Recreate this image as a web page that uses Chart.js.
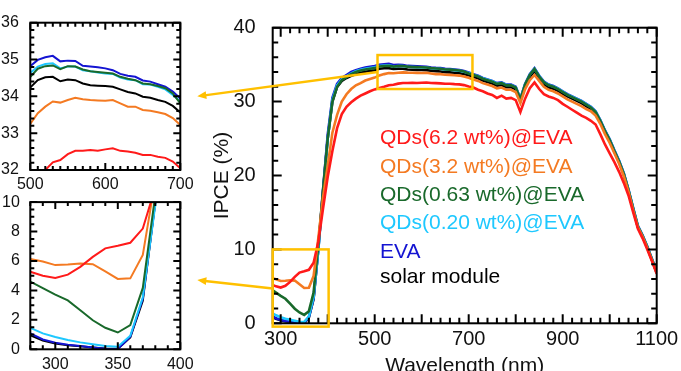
<!DOCTYPE html>
<html>
<head>
<meta charset="utf-8">
<script src="https://cdn.jsdelivr.net/npm/chart.js@4.4.1/dist/chart.umd.min.js"></script>
<style>
  html, body { margin: 0; padding: 0; background: #fff; }
  #wrap { position: relative; width: 681px; height: 371px; overflow: hidden; }
  canvas { position: absolute; }
</style>
</head>
<body>
<div id="wrap">
  <canvas id="main" width="681" height="371" style="left:0;top:0"></canvas>
  <canvas id="insetTop" width="200" height="195" style="left:0;top:0"></canvas>
  <canvas id="insetLow" width="200" height="181" style="left:0;top:190px"></canvas>
</div>
<script>
// ---------- data ----------
const wavelengths = [280, 290, 300, 310, 320, 330, 340, 350, 360, 370,
  380, 390, 400, 410, 420, 430, 440, 450, 460, 470, 480, 490, 500,
  510, 520, 530, 540, 550, 560, 570, 580, 590, 600, 610, 620, 630, 640, 650, 660, 670, 680, 690, 700,
  710, 720, 730, 740, 750, 760, 770, 780, 790, 800, 810, 820, 830, 840, 850, 860, 870, 880, 890, 900,
  910, 920, 930, 940, 950, 960, 970, 980, 990, 1000, 1010, 1020, 1030, 1040, 1050, 1060, 1070, 1080, 1090, 1100];

const qd62 = [5.27, 5.0, 4.84, 5.07, 5.6, 6.28, 6.86, 7.04, 7.24, 8.2,
  11.0, 15.5, 19.8, 23.3, 26.4, 28.3, 29.3, 29.9, 30.4, 30.8, 31.1, 31.4, 31.65,
  31.85, 32.0, 32.21, 32.27, 32.43, 32.52, 32.52, 32.54, 32.52, 32.56, 32.59, 32.52, 32.5, 32.47, 32.41, 32.41, 32.36, 32.33, 32.23, 32.05,
  31.9, 31.6, 31.4, 31.1, 30.9, 30.5, 30.8, 30.4, 30.5, 30.2, 28.6, 30.4, 31.8, 32.6, 31.7, 31.0, 30.7, 30.5, 30.2, 29.7,
  29.3, 28.9, 28.5, 28.1, 27.8, 27.4, 26.9, 25.6, 24.2, 23.0, 21.8, 20.5, 19.0, 17.3, 15.0, 12.8, 11.5, 10.0, 8.4, 6.7];

const qd32 = [6.14, 5.96, 5.72, 5.76, 5.83, 5.78, 5.29, 4.78, 4.82, 6.41,
  11.5, 17.0, 21.3, 25.8, 28.2, 30.0, 31.0, 31.7, 32.2, 32.5, 32.85, 33.05, 33.25,
  33.54, 33.72, 33.86, 33.83, 33.9, 33.96, 33.92, 33.9, 33.89, 33.88, 33.9, 33.81, 33.72, 33.72, 33.63, 33.61, 33.57, 33.52, 33.41, 33.22,
  33.0, 32.8, 32.5, 32.3, 32.1, 31.8, 31.9, 31.6, 31.6, 31.3, 29.8, 31.7, 32.9, 33.6, 32.8, 32.0, 31.6, 31.4, 31.1, 30.7,
  30.3, 30.0, 29.7, 29.4, 29.0, 28.7, 28.1, 27.0, 25.6, 24.4, 23.0, 21.6, 19.9, 17.8, 15.3, 13.0, 11.7, 10.2, 8.5, 6.85];

const qd063 = [4.6, 4.15, 3.72, 3.32, 2.65, 1.97, 1.46, 1.14, 1.64, 4.17,
  10.5, 18.0, 25.0, 30.0, 32.0, 32.9, 33.3, 33.7, 34.0, 34.2, 34.35, 34.45, 34.53,
  34.75, 34.82, 34.84, 34.74, 34.82, 34.81, 34.73, 34.68, 34.66, 34.64, 34.62, 34.53, 34.48, 34.44, 34.35, 34.33, 34.28, 34.22, 34.08, 33.81,
  33.6, 33.4, 33.1, 32.9, 32.7, 32.4, 32.5, 32.2, 32.2, 31.9, 30.3, 32.3, 33.6, 34.4, 33.4, 32.6, 32.2, 32.0, 31.7, 31.3,
  30.9, 30.6, 30.3, 30.0, 29.6, 29.2, 28.6, 27.4, 26.0, 24.8, 23.3, 21.9, 20.2, 18.0, 15.5, 13.1, 11.8, 10.3, 8.6, 6.9];

const qd020 = [1.46, 1.08, 0.83, 0.63, 0.47, 0.34, 0.22, 0.18, 0.92, 3.54,
  9.8, 17.5, 25.0, 30.2, 32.2, 33.0, 33.4, 33.8, 34.1, 34.3, 34.45, 34.55, 34.64,
  34.81, 34.88, 34.9, 34.76, 34.81, 34.81, 34.71, 34.68, 34.65, 34.62, 34.61, 34.51, 34.46, 34.44, 34.33, 34.32, 34.26, 34.19, 34.04, 33.86,
  33.65, 33.45, 33.15, 32.95, 32.75, 32.45, 32.55, 32.25, 32.25, 31.95, 30.35, 32.35, 33.65, 34.45, 33.45, 32.65, 32.25, 32.05, 31.75, 31.35,
  30.95, 30.65, 30.35, 30.05, 29.65, 29.25, 28.65, 27.45, 26.05, 24.85, 23.35, 21.95, 20.25, 18.05, 15.55, 13.15, 11.85, 10.35, 8.65, 6.95];

const eva = [1.08, 0.67, 0.45, 0.31, 0.22, 0.13, 0.04, 0.02, 0.85, 3.43,
  10.0, 18.0, 25.5, 30.5, 32.4, 33.2, 33.6, 34.0, 34.25, 34.45, 34.6, 34.72, 34.82,
  34.99, 35.06, 35.1, 34.95, 34.97, 34.96, 34.83, 34.81, 34.79, 34.76, 34.71, 34.61, 34.56, 34.53, 34.43, 34.4, 34.33, 34.26, 34.13, 33.94,
  33.72, 33.5, 33.2, 33.0, 32.8, 32.5, 32.6, 32.3, 32.3, 32.0, 30.4, 32.4, 33.7, 34.5, 33.5, 32.7, 32.3, 32.1, 31.8, 31.4,
  31.0, 30.7, 30.4, 30.1, 29.7, 29.3, 28.7, 27.5, 26.1, 24.9, 23.4, 22.0, 20.3, 18.1, 15.6, 13.2, 11.9, 10.4, 8.7, 7.0];

const solarModule = [0.95, 0.6, 0.4, 0.28, 0.2, 0.12, 0.05, 0.03, 0.8, 3.3,
  10.0, 17.8, 25.0, 30.0, 32.0, 32.8, 33.2, 33.5, 33.7, 33.9, 34.05, 34.15, 34.24,
  34.44, 34.52, 34.53, 34.41, 34.46, 34.44, 34.35, 34.3, 34.29, 34.28, 34.26, 34.19, 34.12, 34.08, 33.99, 33.96, 33.9, 33.85, 33.74, 33.56,
  33.35, 33.15, 32.85, 32.65, 32.45, 32.15, 32.25, 31.95, 31.95, 31.65, 30.1, 32.05, 33.35, 34.15, 33.15, 32.35, 31.95, 31.75, 31.45, 31.05,
  30.7, 30.4, 30.1, 29.8, 29.4, 29.0, 28.45, 27.3, 25.9, 24.7, 23.2, 21.8, 20.1, 17.9, 15.4, 13.0, 11.75, 10.25, 8.55, 6.85];

const seriesNames = ['QDs(6.2 wt%)@EVA', 'QDs(3.2 wt%)@EVA', 'QDs(0.63 wt%)@EVA',
  'QDs(0.20 wt%)@EVA', 'EVA', 'solar module'];
const seriesValues = [qd62, qd32, qd063, qd020, eva, solarModule];

const mainXTicks = [300, 500, 700, 900, 1100];
const topXTicks = [500, 600, 700];
const lowXTicks = [300, 350, 400];

// zoomed regions marked on the main plot (wavelength, IPCE)
const topZoomBox = { x: [506, 708], y: [31.7, 36.3] };
const lowZoomBox = { x: [283, 402], y: [-0.45, 10] };
const arrowLevels = [34, 4.7];

// ---------- styles ----------
const colors = ['#ff1a1a', '#f47a22', '#19692b', '#1ec8ff', '#1414d2', '#000000'];
const FONT = "'Liberation Sans', Arial, sans-serif";
const YELLOW = '#ffc000';
const legendBaselines = [144, 172.5, 201, 229, 258, 282.5];

function buildDatasets(width) {
  return seriesValues.map((vals, i) => ({
    label: seriesNames[i],
    data: wavelengths.map((w, k) => ({ x: w, y: vals[k] })),
    borderColor: colors[i],
    borderWidth: width,
    pointRadius: 0,
    tension: 0,
    fill: false
  }));
}

// frame with inward ticks on all four sides
function frameTicks(o) {
  return {
    id: 'frameTicks',
    afterDatasetsDraw(chart) {
      const { ctx, chartArea: a, scales: { x, y } } = chart;
      const isMajor = (v, m) => Math.abs(v / m - Math.round(v / m)) < 1e-6;
      ctx.save();
      ctx.strokeStyle = '#000';
      ctx.lineWidth = o.lw;
      ctx.beginPath();
      for (let n = Math.ceil(x.min / o.xMinor - 1e-9); n * o.xMinor <= x.max + 1e-9; n++) {
        const v = n * o.xMinor, px = x.getPixelForValue(v);
        const len = isMajor(v, o.xMajor) ? o.major : o.minor;
        ctx.moveTo(px, a.bottom); ctx.lineTo(px, a.bottom - len);
        ctx.moveTo(px, a.top); ctx.lineTo(px, a.top + len);
      }
      for (let n = Math.ceil(y.min / o.yMinor - 1e-9); n * o.yMinor <= y.max + 1e-9; n++) {
        const v = n * o.yMinor, py = y.getPixelForValue(v);
        const len = isMajor(v, o.yMajor) ? o.major : o.minor;
        ctx.moveTo(a.left, py); ctx.lineTo(a.left + len, py);
        ctx.moveTo(a.right, py); ctx.lineTo(a.right - len, py);
      }
      ctx.stroke();
      ctx.strokeRect(a.left, a.top, a.right - a.left, a.bottom - a.top);
      ctx.restore();
    }
  };
}

function baseOptions(cfg) {
  return {
    responsive: false,
    animation: false,
    devicePixelRatio: 1,
    layout: { padding: cfg.padding },
    plugins: { legend: { display: false }, tooltip: { enabled: false } },
    scales: {
      x: {
        type: 'linear', min: cfg.xMin, max: cfg.xMax,
        grid: { display: false }, border: { display: false },
        afterBuildTicks: s => { s.ticks = cfg.xTicks.map(v => ({ value: v })); },
        afterFit: s => { s.height = cfg.xHeight; },
        ticks: { font: { family: FONT, size: cfg.fontSize }, color: '#111', padding: cfg.xPad,
          maxRotation: 0, callback: v => String(v) },
        title: cfg.xTitle || { display: false }
      },
      y: {
        type: 'linear', min: cfg.yMin, max: cfg.yMax,
        grid: { display: false }, border: { display: false },
        afterFit: s => { s.width = cfg.yWidth; },
        ticks: { stepSize: cfg.yStep, font: { family: FONT, size: cfg.fontSize }, color: '#111',
          padding: cfg.yPad, callback: v => String(v) },
        title: cfg.yTitle || { display: false }
      }
    }
  };
}

// ---------- insets ----------
const topInset = new Chart(document.getElementById('insetTop'), {
  type: 'line',
  data: { datasets: buildDatasets(2) },
  options: baseOptions({
    padding: { left: 0, top: 22.7, right: 19.7, bottom: 0 },
    xMin: 500, xMax: 700, xTicks: topXTicks, xHeight: 25, xPad: -3.5,
    yMin: 32, yMax: 36, yStep: 1, yWidth: 30.3, yPad: 3.5, fontSize: 16
  }),
  plugins: [frameTicks({ lw: 2, xMinor: 10, xMajor: 100, yMinor: 0.2, yMajor: 1, major: 7, minor: 4 })]
});

const lowInset = new Chart(document.getElementById('insetLow'), {
  type: 'line',
  data: { datasets: buildDatasets(2) },
  options: baseOptions({
    padding: { left: 0, top: 10.7, right: 19.7, bottom: 0 },
    xMin: 280, xMax: 400, xTicks: lowXTicks, xHeight: 21.7, xPad: -2.5,
    yMin: 0, yMax: 10, yStep: 2, yWidth: 30.3, yPad: 2.5, fontSize: 16
  }),
  plugins: [frameTicks({ lw: 2, xMinor: 10, xMajor: 50, yMinor: 0.5, yMajor: 2, major: 7, minor: 4 })]
});

// ---------- zoom boxes, arrows, legend text ----------
const annotations = {
  id: 'annotations',
  afterDraw(chart) {
    const { ctx, scales: { x, y } } = chart;
    ctx.save();
    ctx.strokeStyle = YELLOW;
    ctx.fillStyle = YELLOW;
    ctx.lineWidth = 2.5;
    const boxes = [topZoomBox, lowZoomBox];
    const insets = [topInset, lowInset];
    boxes.forEach((b, i) => {
      const x0 = x.getPixelForValue(b.x[0]), x1 = x.getPixelForValue(b.x[1]);
      const y0 = y.getPixelForValue(b.y[1]), y1 = y.getPixelForValue(b.y[0]);
      ctx.strokeRect(x0, y0, x1 - x0, y1 - y0);

      const inset = insets[i];
      const offX = inset.canvas.offsetLeft, offY = inset.canvas.offsetTop;
      const sx = x0, sy = y.getPixelForValue(arrowLevels[i]);
      const tx = offX + inset.chartArea.right + 17;
      const ty = offY + inset.scales.y.getPixelForValue(arrowLevels[i]);
      const ang = Math.atan2(ty - sy, tx - sx);
      const hl = 9, hw = 4;
      ctx.beginPath();
      ctx.moveTo(sx, sy);
      ctx.lineTo(tx - hl * 0.6 * Math.cos(ang), ty - hl * 0.6 * Math.sin(ang));
      ctx.stroke();
      ctx.beginPath();
      ctx.moveTo(tx, ty);
      ctx.lineTo(tx - hl * Math.cos(ang) + hw * Math.sin(ang), ty - hl * Math.sin(ang) - hw * Math.cos(ang));
      ctx.lineTo(tx - hl * Math.cos(ang) - hw * Math.sin(ang), ty - hl * Math.sin(ang) + hw * Math.cos(ang));
      ctx.closePath();
      ctx.fill();
    });

    ctx.font = '21px ' + FONT;
    ctx.textBaseline = 'alphabetic';
    ctx.textAlign = 'left';
    seriesNames.forEach((name, i) => {
      ctx.fillStyle = colors[i];
      ctx.fillText(name, 380, legendBaselines[i]);
    });
    ctx.restore();
  }
};

// ---------- main chart ----------
new Chart(document.getElementById('main'), {
  type: 'line',
  data: { datasets: buildDatasets(2.6) },
  options: baseOptions({
    padding: { left: 206, top: 27.7, right: 24.3, bottom: 0 },
    xMin: 283, xMax: 1100, xTicks: mainXTicks, xHeight: 47.7, xPad: -3.6,
    yMin: 0, yMax: 40, yStep: 10, yWidth: 66.7, yPad: 9, fontSize: 20,
    xTitle: { display: true, text: 'Wavelength (nm)', color: '#111',
      font: { family: FONT, size: 21 }, padding: { top: 0, bottom: -8 } },
    yTitle: { display: true, text: 'IPCE (%)', color: '#111',
      font: { family: FONT, size: 21 }, padding: { top: 4, bottom: 0 } }
  }),
  plugins: [frameTicks({ lw: 2, xMinor: 20, xMajor: 100, yMinor: 2, yMajor: 10, major: 9, minor: 5.5 }), annotations]
});
</script>
</body>
</html>
